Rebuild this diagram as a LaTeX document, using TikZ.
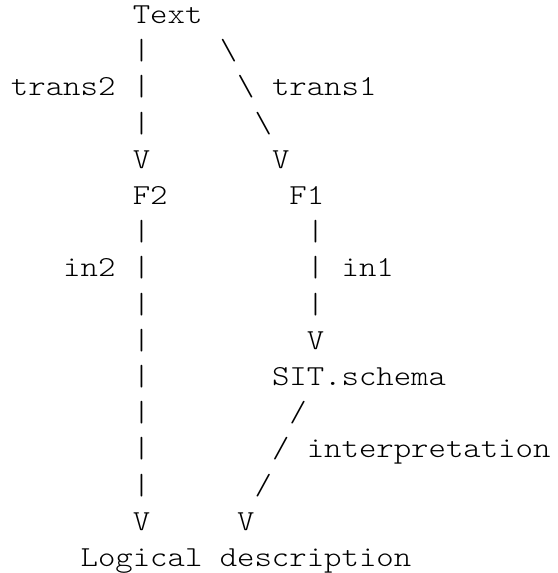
\documentclass[tikz,border=0pt]{standalone}
\usepackage{fontspec}
\setmonofont{Latin Modern Mono Light}[FakeStretch=1.143]

\begin{document}
\begin{tikzpicture}[x=8.7pt, y=-18.1pt]
\tikzset{
  cell/.style={anchor=base west, inner sep=0pt, outer sep=0pt, text=black,
    font=\ttfamily\fontsize{14.5pt}{18pt}\selectfont}
}
\useasboundingbox[fill=white] (-5.5pt,11.75pt) rectangle (273pt,-274.75pt);

% stages
\node[cell] (text) at (7,0) {Text};
\node[cell] (f2) at (7,5) {F2};
\node[cell] (f1) at (16,5) {F1};
\node[cell] (sit) at (15,10) {SIT.schema};
\node[cell] (logic) at (4,15) {Logical description};

% labels
\node[cell] (trans2) at (0,2) {trans2};
\node[cell] (trans1) at (15,2) {trans1};
\node[cell] (in2) at (3,7) {in2};
\node[cell] (in1) at (19,7) {in1};
\node[cell] (interp) at (17,12) {interpretation};

% left chain: Text -> F2 -> Logical description
\foreach \r in {1,2,3,6,7,8,9,10,11,12,13}
  \node[cell] (bar2-\r) at (7,\r) {|};
\node[cell] (tip2a) at (7,4) {V};
\node[cell] (tip2b) at (7,14) {V};

% right chain: Text -> F1 -> SIT.schema -> Logical description
\foreach \r/\c in {1/12,2/13,3/14}
  \node[cell] (bs-\r) at (\c,\r) {\textbackslash};
\node[cell] (tip1a) at (15,4) {V};
\foreach \r in {6,7,8}
  \node[cell] (bar1-\r) at (17,\r) {|};
\node[cell] (tip1b) at (17,9) {V};
\foreach \r/\c in {11/16,12/15,13/14}
  \node[cell] (sl-\r) at (\c,\r) {/};
\node[cell] (tip1c) at (13,14) {V};
\end{tikzpicture}
\end{document}
